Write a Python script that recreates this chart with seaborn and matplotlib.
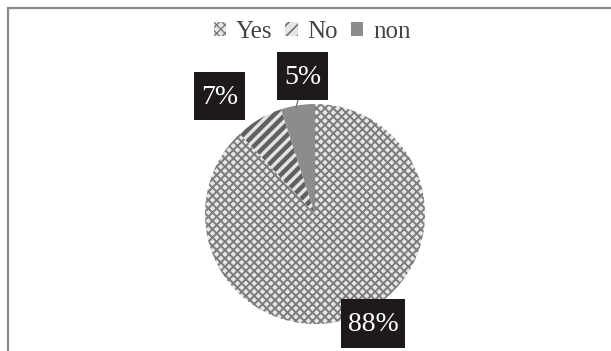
import matplotlib
matplotlib.use("Agg")
import matplotlib.pyplot as plt
from matplotlib.patches import Patch, Rectangle
import seaborn as sns

# Survey answers (share of respondents, %)
categories = ["Yes", "No", "non"]
shares = [88, 7, 5]
label_texts = ["88%", "7%", "5%"]

sns.set_theme(style="white")
plt.rcParams["font.family"] = ["Liberation Serif", "DejaVu Serif"]

W, H = 611, 351
fig = plt.figure(figsize=(W / 100, H / 100), dpi=100)
fig.patch.set_facecolor("white")

# outer frame (right and bottom edges run off the canvas)
fig.add_artist(Rectangle((8 / W, -0.05), 1.0, 1 - 8 / H + 0.05, transform=fig.transFigure,
                         fill=False, edgecolor="#8a8a8a", linewidth=1.6))

cx, cy, r = 315, 214, 110
ax = fig.add_axes([(cx - r) / W, (H - cy - r) / H, 2 * r / W, 2 * r / H])

faces = ["#e6e6e6", "#e4e4e4", "#8c8c8c"]
hatches = ["xxxx", "///", None]
hatch_cols = ["#7c7c7c", "#606060", "#8c8c8c"]
hatch_widths = [1.4, 3.2, 0.0]

wedges, _ = ax.pie(shares, startangle=90, counterclock=False, radius=1,
                   colors=faces, wedgeprops=dict(linewidth=0))
for w, h, hc, hw in zip(wedges, hatches, hatch_cols, hatch_widths):
    if h:
        w.set_hatch(h)
        w.set_hatch_linewidth(hw)
    w.set_edgecolor(hc)
    w.set_linewidth(0)
ax.set_xlim(-1, 1)
ax.set_ylim(-1, 1)
ax.set_aspect("auto")
ax.axis("off")


def px2data(px, py):
    return (px - cx) / r, (cy - py) / r


# data labels in black boxes: (left, top, width, height) in pixels
label_boxes = [(341, 299, 64, 49), (194, 72, 51, 48), (277, 52, 51, 48)]
for txt, (bx, by, bw, bh) in zip(label_texts, label_boxes):
    x0, y1 = px2data(bx, by)
    ax.add_patch(Rectangle((x0, y1 - bh / r), bw / r, bh / r, facecolor="#1e1a1a",
                           edgecolor="none", clip_on=False, zorder=5))
    xc, yc = px2data(bx + bw / 2, by + bh / 2)
    ax.text(xc, yc - 0.01, txt, ha="center", va="center", color="white", fontsize=20,
            clip_on=False, zorder=6)

# leader line for the smallest slice
lx, ly = zip(px2data(298, 100), px2data(296, 108))
ax.plot(lx, ly, color="#777777", linewidth=1, clip_on=False)

handles = []
for f, h, hc, hw in zip(faces, hatches, hatch_cols, hatch_widths):
    p = Patch(facecolor=f, edgecolor=hc, hatch=h, linewidth=0)
    if h:
        p.set_hatch_linewidth(hw * 0.6)
    handles.append(p)
fig.legend(handles, categories, loc="center", bbox_to_anchor=(312 / W, 1 - 32 / H),
           ncol=3, frameon=False, fontsize=18, handlelength=0.5, handleheight=0.5,
           handletextpad=0.4, columnspacing=0.5, labelcolor="#444444")

fig.savefig("out.png", dpi=100, facecolor="white")
